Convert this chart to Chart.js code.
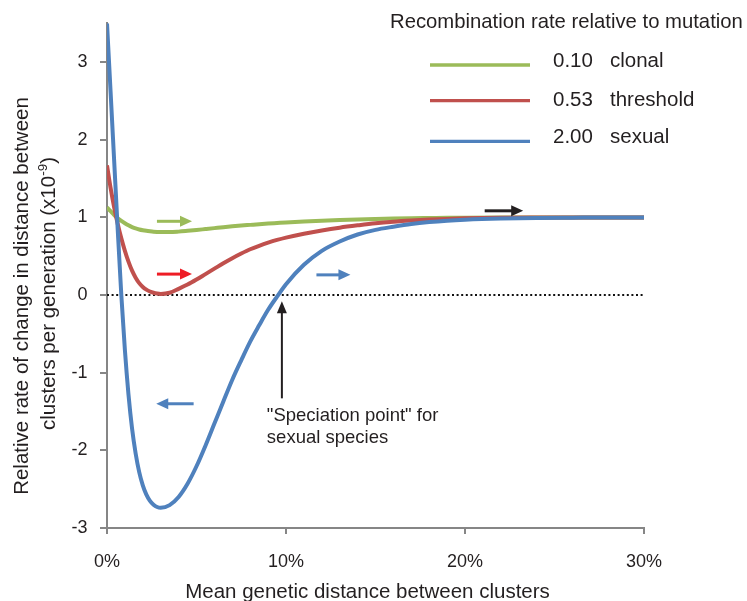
<!DOCTYPE html>
<html><head><meta charset="utf-8">
<script src="https://cdn.jsdelivr.net/npm/chart.js@4/dist/chart.umd.min.js"></script>
<style>html,body{margin:0;padding:0;background:#fff;}canvas{display:block;}</style>
</head><body>
<canvas id="c" width="747" height="601"></canvas>
<script>
// ---- data (x in % mean genetic distance, y in x10^-9 per generation) ----
const distance  = [0, 0.2, 0.4, 0.6, 0.8, 1.0, 1.2, 1.4, 1.6, 1.8, 2.0, 2.2, 2.4, 2.6, 2.8, 3.0, 3.5, 4.0, 4.5, 5.0, 5.5, 6.0, 6.5, 7.0, 7.5, 8.0, 8.5, 9.0, 9.5, 10, 11, 12, 13, 14, 15, 16, 17, 18, 19, 20, 22, 24, 26, 28, 30];
const clonal    = [1.13, 1.08, 1.03, 0.99, 0.955, 0.925, 0.898, 0.876, 0.858, 0.845, 0.835, 0.827, 0.821, 0.816, 0.813, 0.811, 0.811, 0.817, 0.827, 0.838, 0.85, 0.862, 0.874, 0.885, 0.895, 0.904, 0.913, 0.921, 0.928, 0.935, 0.947, 0.957, 0.966, 0.974, 0.98, 0.985, 0.989, 0.992, 0.995, 0.997, 0.999, 1.0, 1.0, 1.0, 1.0];
const threshold = [1.67, 1.38, 1.13, 0.915, 0.73, 0.57, 0.43, 0.314, 0.224, 0.154, 0.104, 0.07, 0.046, 0.03, 0.02, 0.015, 0.03, 0.08, 0.135, 0.20, 0.27, 0.34, 0.41, 0.475, 0.535, 0.59, 0.635, 0.675, 0.71, 0.74, 0.79, 0.832, 0.868, 0.898, 0.925, 0.945, 0.96, 0.972, 0.981, 0.988, 0.995, 0.998, 1.0, 1.0, 1.0];
const sexual    = [3.5, 2.62, 1.73, 0.84, 0.0, -0.71, -1.28, -1.72, -2.04, -2.28, -2.45, -2.57, -2.65, -2.70, -2.73, -2.74, -2.705, -2.60, -2.43, -2.205, -1.94, -1.655, -1.37, -1.09, -0.84, -0.60, -0.39, -0.19, -0.02, 0.14, 0.39, 0.57, 0.69, 0.78, 0.84, 0.88, 0.915, 0.94, 0.958, 0.97, 0.985, 0.993, 0.997, 1.0, 1.0];
const zeroLineX = [0, 30];
const zeroLineY = [0, 0];

const seriesNames  = ['clonal', 'threshold', 'sexual'];
const seriesRates  = ['0.10', '0.53', '2.00'];
const seriesColors = ['#9BBB59', '#C0504D', '#4F81BD'];
const legendTitle  = 'Recombination rate relative to mutation';
const xTitle = 'Mean genetic distance between clusters';
const yTitle1 = 'Relative rate of change in distance between';
const yTitle2 = 'clusters per generation (x10';
const yTitleSup = '-9';
const yTitleEnd = ')';
const noteLines = ['"Speciation point" for', 'sexual species'];

// arrows (data units): [x0, y0, x1, y1]
const arrowClonal    = [2.79, 0.95, 4.75, 0.95];
const arrowThreshold = [2.79, 0.27, 4.75, 0.27];
const arrowSexualR   = [11.7, 0.26, 13.6, 0.26];
const arrowSexualL   = [4.84, -1.40, 2.75, -1.40];
const arrowBlackR    = [21.1, 1.085, 23.25, 1.085];
const arrowSpeciation= [9.77, -1.33, 9.77, -0.08];
const notePos = [8.93, -1.62];

const FONT = "'Liberation Sans', Arial, Helvetica, sans-serif";
const TXT = '#231F20';

function pts(ys) { return distance.map((x, i) => ({x, y: ys[i]})); }

function drawArrow(ctx, x0, y0, x1, y1, color, w, hl, hw) {
  const a = Math.atan2(y1 - y0, x1 - x0);
  const bx = x1 - hl * Math.cos(a), by = y1 - hl * Math.sin(a);
  ctx.save();
  ctx.strokeStyle = color; ctx.fillStyle = color; ctx.lineWidth = w; ctx.lineCap = 'butt';
  ctx.beginPath(); ctx.moveTo(x0, y0); ctx.lineTo(bx + Math.cos(a), by + Math.sin(a)); ctx.stroke();
  ctx.beginPath();
  ctx.moveTo(x1, y1);
  ctx.lineTo(bx + hw / 2 * Math.sin(a), by - hw / 2 * Math.cos(a));
  ctx.lineTo(bx - hw / 2 * Math.sin(a), by + hw / 2 * Math.cos(a));
  ctx.closePath(); ctx.fill();
  ctx.restore();
}

const overlay = {
  id: 'overlay',
  afterDatasetsDraw(chart) {
    const {ctx, scales: {x, y}} = chart;
    const A = (arr, color, w, hl, hw) => drawArrow(ctx, x.getPixelForValue(arr[0]), y.getPixelForValue(arr[1]), x.getPixelForValue(arr[2]), y.getPixelForValue(arr[3]), color, w, hl, hw);
    A(arrowClonal, '#9BBB59', 3, 12, 11);
    A(arrowThreshold, '#EE1C25', 3, 12, 11);
    A(arrowSexualR, '#4F81BD', 3, 12, 11);
    A(arrowSexualL, '#4F81BD', 3, 12, 11);
    A(arrowBlackR, '#231F20', 3, 12, 11);
    A(arrowSpeciation, '#231F20', 2, 12, 10);
  },
  afterDraw(chart) {
    const {ctx, scales: {x, y}} = chart;
    ctx.save();
    ctx.fillStyle = TXT;
    ctx.textBaseline = 'alphabetic';
    // note
    ctx.font = '18.5px ' + FONT; ctx.textAlign = 'left';
    const nx = x.getPixelForValue(notePos[0]), ny = y.getPixelForValue(notePos[1]);
    ctx.fillText(noteLines[0], nx, ny);
    ctx.fillText(noteLines[1], nx, ny + 22.6);
    // legend
    ctx.font = '20.3px ' + FONT;
    ctx.fillText(legendTitle, 390, 28.3);
    const lineY = [65, 100.7, 141.3], textY = [66.7, 106, 143.3];
    ctx.font = '20.5px ' + FONT;
    for (let i = 0; i < 3; i++) {
      ctx.strokeStyle = seriesColors[i]; ctx.lineWidth = 3.3;
      ctx.beginPath(); ctx.moveTo(430, lineY[i]); ctx.lineTo(530, lineY[i]); ctx.stroke();
      ctx.fillText(seriesRates[i], 553, textY[i]);
      ctx.fillText(seriesNames[i], 610, textY[i]);
    }
    // x title
    ctx.font = '20.5px ' + FONT; ctx.textAlign = 'center';
    ctx.fillText(xTitle, 367.5, 597.5);
    // y title
    ctx.save();
    ctx.translate(28, 296); ctx.rotate(-Math.PI / 2);
    ctx.font = '20.5px ' + FONT; ctx.textAlign = 'center';
    ctx.fillText(yTitle1, 0, 0);
    ctx.restore();
    ctx.save();
    ctx.translate(55, 293.5); ctx.rotate(-Math.PI / 2);
    ctx.textAlign = 'left';
    ctx.font = '20.5px ' + FONT;
    const w1 = ctx.measureText(yTitle2).width, w3 = ctx.measureText(yTitleEnd).width;
    ctx.font = '13.5px ' + FONT;
    const w2 = ctx.measureText(yTitleSup).width;
    let sx = -(w1 + w2 + w3) / 2;
    ctx.font = '20.5px ' + FONT; ctx.fillText(yTitle2, sx, 0); sx += w1;
    ctx.font = '13.5px ' + FONT; ctx.fillText(yTitleSup, sx, -8); sx += w2;
    ctx.font = '20.5px ' + FONT; ctx.fillText(yTitleEnd, sx, 0);
    ctx.restore();
    ctx.restore();
  }
};

const lineDs = (i, data, order) => ({
  label: seriesRates[i] + ' ' + seriesNames[i], data: pts(data),
  borderColor: seriesColors[i], backgroundColor: seriesColors[i], borderWidth: 4,
  pointRadius: 0, cubicInterpolationMode: 'monotone', fill: false, order
});

new Chart(document.getElementById('c'), {
  type: 'line',
  data: {
    datasets: [
      {label: 'zero', data: zeroLineX.map((x, i) => ({x, y: zeroLineY[i]})), borderColor: '#111', borderWidth: 2,
       borderDash: [2, 2.6], pointRadius: 0, fill: false, order: 4},
      lineDs(0, clonal, 3),
      lineDs(1, threshold, 2),
      lineDs(2, sexual, 1)
    ]
  },
  options: {
    responsive: false, animation: false,
    layout: {padding: {left: 0, top: 23, right: 103, bottom: 0}},
    plugins: {legend: {display: false}, tooltip: {enabled: false}},
    scales: {
      x: {
        type: 'linear', min: 0, max: 30,
        afterFit: s => { s.height = 73; },
        ticks: {stepSize: 10, padding: 17, color: TXT, font: {family: FONT, size: 18}, callback: v => v + '%'},
        grid: {display: true, drawOnChartArea: false, drawTicks: true, tickLength: 6, color: '#868686', lineWidth: 2},
        border: {display: true, color: '#868686', width: 2},
        title: {display: false}
      },
      y: {
        type: 'linear', min: -3, max: 3.5,
        afterFit: s => { s.width = 107; },
        ticks: {stepSize: 1, includeBounds: false, padding: 12.5, color: TXT, font: {family: FONT, size: 18}},
        grid: {display: true, drawOnChartArea: false, drawTicks: true, tickLength: 7, color: '#868686', lineWidth: 2},
        border: {display: true, color: '#868686', width: 2},
        title: {display: false}
      }
    }
  },
  plugins: [overlay]
});
</script>
</body></html>
